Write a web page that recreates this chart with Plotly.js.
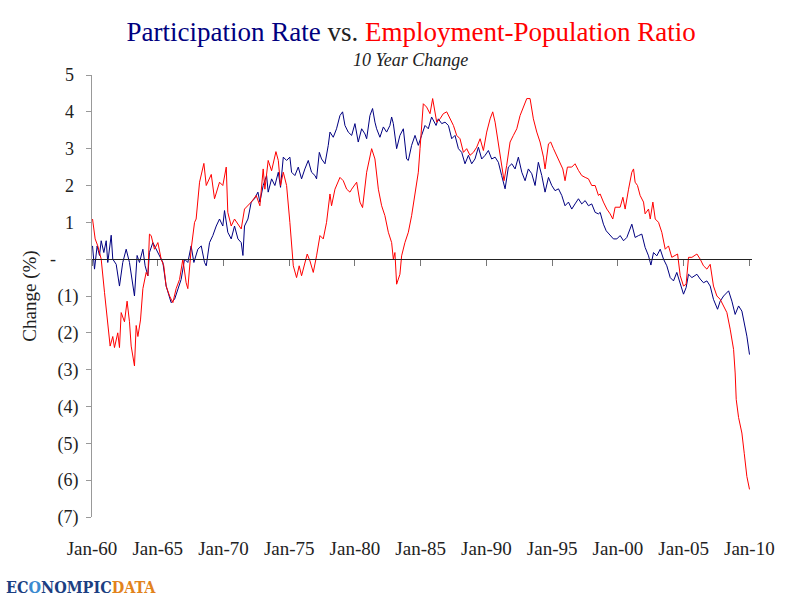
<!DOCTYPE html>
<html>
<head>
<meta charset="utf-8">
<script src="https://cdn.plot.ly/plotly-3.0.1.min.js"></script>
<style>
  html, body { margin: 0; padding: 0; background: #fff; }
  #chart { width: 800px; height: 600px; }
</style>
</head>
<body>
<div id="chart"></div>
<script>
// 10년 변화(%p): 경제활동참가율(파랑) vs 고용률(빨강). 그림에서 읽은 값.
const partYears = [
  1960.04, 1960.19, 1960.39, 1960.57, 1960.70, 1960.90, 1961.08, 1961.20, 1961.46, 1961.58,
  1961.84, 1962.09, 1962.34, 1962.60, 1962.85, 1963.11, 1963.23, 1963.43, 1963.61, 1963.87,
  1964.04, 1964.25, 1964.37, 1964.63, 1964.88, 1965.13, 1965.39, 1965.64, 1966.02, 1966.28,
  1966.53, 1966.78, 1967.04, 1967.29, 1967.54, 1967.75, 1968.05, 1968.31, 1968.56, 1968.69,
  1968.94, 1969.19, 1969.45, 1969.70, 1969.95, 1970.08, 1970.33, 1970.59, 1970.84, 1971.10,
  1971.35, 1971.48, 1971.60, 1971.86, 1972.11, 1972.36, 1972.62, 1972.77, 1973.02, 1973.28,
  1973.40, 1973.66, 1973.91, 1974.17, 1974.34, 1974.55, 1974.80, 1975.05, 1975.18, 1975.43,
  1975.69, 1975.94, 1976.19, 1976.45, 1976.70, 1976.96, 1977.08, 1977.29, 1977.46, 1977.72,
  1977.97, 1978.10, 1978.35, 1978.60, 1978.86, 1979.06, 1979.24, 1979.49, 1979.75, 1980.00,
  1980.25, 1980.51, 1980.76, 1980.89, 1981.14, 1981.34, 1981.52, 1981.65, 1981.90, 1982.16,
  1982.41, 1982.66, 1982.79, 1982.92, 1983.17, 1983.42, 1983.68, 1983.93, 1984.06, 1984.31,
  1984.57, 1984.82, 1985.07, 1985.33, 1985.58, 1985.83, 1986.17, 1986.34, 1986.60, 1986.85,
  1987.11, 1987.36, 1987.61, 1987.87, 1988.12, 1988.37, 1988.63, 1988.88, 1989.13, 1989.39,
  1989.64, 1989.90, 1990.15, 1990.40, 1990.66, 1990.91, 1991.16, 1991.42, 1991.67, 1991.93,
  1992.18, 1992.43, 1992.69, 1992.94, 1993.19, 1993.45, 1993.70, 1993.95, 1994.21, 1994.46,
  1994.72, 1994.97, 1995.22, 1995.48, 1995.73, 1995.98, 1996.24, 1996.49, 1996.74, 1997.00,
  1997.25, 1997.51, 1997.76, 1998.01, 1998.27, 1998.52, 1998.65, 1998.90, 1999.11, 1999.41,
  1999.66, 1999.92, 2000.17, 2000.43, 2000.68, 2001.06, 2001.31, 2001.57, 2001.82, 2002.07,
  2002.33, 2002.51, 2002.71, 2002.96, 2003.22, 2003.47, 2003.72, 2003.98, 2004.23, 2004.48,
  2004.74, 2004.99, 2005.19, 2005.37, 2005.63, 2006.01, 2006.26, 2006.51, 2006.77, 2007.02,
  2007.27, 2007.58, 2007.78, 2008.04, 2008.42, 2008.67, 2008.92, 2009.18, 2009.43, 2009.61,
  2009.81, 2010.01,
];
const partValues = [
  0.36, -0.27, 0.36, 0.10, 0.50, 0.18, 0.50, -0.09, 0.65, 0.00,
  -0.14, -0.73, -0.09, 0.27, -0.09, -0.82, -1.00, 0.10, -0.09, 0.27,
  -0.18, -0.45, 0.18, 0.45, 0.27, 0.09, -0.09, -0.73, -1.18, -1.09,
  -0.82, -0.55, 0.00, -0.09, 0.36, -0.09, 0.27, 0.36, -0.09, -0.18,
  0.45, 0.64, 0.90, 1.09, 0.90, 1.32, 0.73, 0.55, 0.90, 0.55,
  0.45, 0.10, 0.90, 1.09, 1.55, 1.64, 1.82, 1.55, 2.00, 2.27,
  1.82, 2.18, 2.00, 2.36, 1.95, 2.77, 2.68, 2.77, 2.36, 2.27,
  2.50, 2.18, 2.45, 2.68, 2.36, 2.27, 2.18, 2.90, 2.72, 2.59,
  3.09, 3.45, 3.31, 3.54, 3.90, 4.00, 3.63, 3.45, 3.36, 3.68,
  3.18, 3.54, 3.40, 3.27, 3.90, 4.09, 3.72, 3.54, 3.31, 3.59,
  3.45, 3.63, 3.86, 3.68, 3.00, 3.36, 3.54, 2.72, 2.68, 3.09,
  3.36, 3.09, 3.36, 3.63, 3.54, 3.86, 3.63, 3.81, 3.68, 3.72,
  3.63, 3.27, 3.36, 3.00, 2.90, 2.59, 2.82, 2.59, 2.72, 3.04,
  2.72, 2.82, 2.95, 2.72, 2.77, 2.63, 2.27, 1.91, 2.50, 2.59,
  2.45, 2.77, 2.36, 2.13, 2.45, 2.32, 2.00, 2.63, 2.27, 1.82,
  2.22, 2.00, 1.86, 1.91, 1.73, 1.45, 1.55, 1.36, 1.50, 1.64,
  1.50, 1.59, 1.45, 1.50, 1.27, 1.23, 1.27, 0.95, 0.77, 0.64,
  0.55, 0.55, 0.64, 0.50, 0.59, 0.95, 0.59, 0.64, 0.68, 0.32,
  0.09, -0.16, 0.18, 0.09, 0.27, 0.00, -0.18, -0.50, -0.59, -0.36,
  -0.68, -0.95, -0.77, -0.41, -0.50, -0.41, -0.54, -0.64, -0.59, -0.73,
  -1.09, -1.36, -1.14, -1.00, -0.86, -1.14, -1.50, -1.27, -1.41, -1.73,
  -2.09, -2.59,
];

const empYears = [
  1960.04, 1960.24, 1960.44, 1960.70, 1960.95, 1961.20, 1961.38, 1961.58, 1961.71, 1961.96,
  1962.09, 1962.22, 1962.47, 1962.67, 1962.85, 1962.98, 1963.23, 1963.36, 1963.49, 1963.69,
  1963.87, 1964.12, 1964.25, 1964.37, 1964.50, 1964.75, 1965.01, 1965.26, 1965.46, 1965.64,
  1965.90, 1966.15, 1966.40, 1966.66, 1966.91, 1967.16, 1967.29, 1967.54, 1967.80, 1967.92,
  1968.18, 1968.51, 1968.69, 1969.07, 1969.32, 1969.70, 1969.95, 1970.21, 1970.33, 1970.59,
  1970.84, 1971.35, 1971.60, 1972.11, 1972.49, 1972.77, 1973.02, 1973.15, 1973.40, 1973.66,
  1973.99, 1974.17, 1974.34, 1974.55, 1974.80, 1975.05, 1975.18, 1975.31, 1975.56, 1975.76,
  1975.94, 1976.19, 1976.37, 1976.58, 1976.83, 1977.08, 1977.34, 1977.59, 1977.84, 1978.10,
  1978.22, 1978.48, 1978.86, 1979.11, 1979.37, 1979.62, 1979.75, 1980.13, 1980.38, 1980.58,
  1980.89, 1981.27, 1981.52, 1981.78, 1982.03, 1982.28, 1982.54, 1982.79, 1982.92, 1983.04,
  1983.17, 1983.42, 1983.55, 1983.80, 1984.06, 1984.31, 1984.57, 1984.82, 1984.95, 1985.07,
  1985.20, 1985.45, 1985.71, 1985.91, 1986.22, 1986.47, 1986.72, 1986.98, 1987.23, 1987.49,
  1987.74, 1987.99, 1988.25, 1988.50, 1988.75, 1989.01, 1989.26, 1989.52, 1989.77, 1990.02,
  1990.28, 1990.48, 1990.66, 1990.91, 1991.16, 1991.34, 1991.54, 1991.80, 1992.05, 1992.31,
  1992.56, 1992.81, 1993.07, 1993.32, 1993.57, 1993.83, 1994.08, 1994.34, 1994.46, 1994.72,
  1994.89, 1995.10, 1995.35, 1995.60, 1995.81, 1995.98, 1996.16, 1996.49, 1996.74, 1997.00,
  1997.25, 1997.51, 1997.76, 1998.01, 1998.27, 1998.52, 1998.65, 1998.90, 1999.16, 1999.41,
  1999.61, 1999.79, 2000.17, 2000.38, 2000.55, 2000.81, 2001.06, 2001.19, 2001.31, 2001.49,
  2001.69, 2001.95, 2002.07, 2002.33, 2002.46, 2002.66, 2002.84, 2003.09, 2003.34, 2003.60,
  2003.85, 2004.10, 2004.36, 2004.54, 2004.74, 2004.99, 2005.19, 2005.37, 2005.63, 2006.01,
  2006.26, 2006.51, 2006.77, 2007.02, 2007.27, 2007.53, 2007.78, 2008.04, 2008.29, 2008.54,
  2008.80, 2008.92, 2009.00, 2009.18, 2009.43, 2009.61, 2009.81, 2010.01,
];
const empValues = [
  1.09, 0.55, 0.36, 0.00, -0.90, -1.70, -2.36, -2.10, -2.40, -2.00,
  -2.40, -1.45, -1.70, -1.14, -1.70, -2.36, -2.90, -1.80, -2.10, -1.65,
  -0.80, -0.36, -0.45, 0.68, 0.64, 0.27, 0.45, 0.00, -0.18, -0.73,
  -1.00, -1.18, -0.80, -0.55, 0.00, -0.64, -0.80, 0.27, 1.00, 1.09,
  2.09, 2.60, 2.00, 2.30, 1.64, 2.09, 2.00, 2.50, 1.27, 0.90,
  1.09, 0.82, 1.36, 1.55, 1.73, 1.45, 2.45, 1.90, 2.68, 2.40,
  2.92, 2.68, 2.00, 2.36, 2.00, 1.00, 0.36, -0.18, -0.50, -0.18,
  -0.45, -0.09, 0.14, -0.05, -0.36, 0.09, 0.64, 0.55, 1.00, 1.77,
  1.45, 1.90, 2.22, 2.13, 1.90, 1.82, 1.90, 2.09, 1.55, 1.40,
  2.36, 3.00, 2.72, 1.90, 1.45, 1.18, 0.73, 0.45, 0.00, 0.18,
  -0.68, -0.41, 0.09, 0.45, 0.73, 1.18, 1.82, 2.36, 3.00, 3.63,
  4.22, 4.13, 3.95, 4.36, 3.72, 3.81, 3.95, 4.00, 3.81, 3.63,
  3.36, 3.27, 2.90, 3.00, 2.82, 2.90, 3.04, 3.27, 2.95, 3.45,
  3.81, 4.00, 3.72, 3.18, 2.54, 2.13, 2.54, 3.18, 3.36, 3.54,
  3.90, 4.13, 4.36, 4.36, 3.81, 3.45, 3.18, 2.77, 2.45, 3.13,
  3.18, 3.00, 2.82, 2.63, 2.45, 2.13, 2.50, 2.50, 2.59, 2.41,
  2.27, 2.22, 2.18, 2.00, 2.00, 1.73, 1.77, 1.55, 1.36, 1.23,
  1.09, 1.41, 1.41, 1.68, 1.36, 1.90, 2.36, 2.45, 2.09, 2.00,
  1.73, 1.55, 1.23, 1.36, 1.09, 1.55, 1.09, 1.00, 0.73, 0.27,
  0.36, 0.05, 0.09, 0.14, -0.45, -0.73, -0.68, 0.05, 0.05, 0.14,
  0.00, -0.18, -0.27, -0.14, -0.73, -1.00, -1.09, -1.27, -1.45, -1.90,
  -2.45, -3.09, -3.81, -4.30, -4.72, -5.27, -5.90, -6.25,
];

// 축 눈금
const xTickVals = [1960, 1965, 1970, 1975, 1980, 1985, 1990, 1995, 2000, 2005, 2010];
const xTickText = ['Jan-60', 'Jan-65', 'Jan-70', 'Jan-75', 'Jan-80', 'Jan-85',
  'Jan-90', 'Jan-95', 'Jan-00', 'Jan-05', 'Jan-10'];
const yTickVals = [-7, -6, -5, -4, -3, -2, -1, 0, 1, 2, 3, 4, 5];
const yTickText = ['(7)', '(6)', '(5)', '(4)', '(3)', '(2)', '(1)',
  '-\u2007\u2007\u00a0', '1\u00a0', '2\u00a0', '3\u00a0', '4\u00a0', '5\u00a0'];

const SERIF = '"Liberation Serif", "DejaVu Serif", serif';
const NAVY = '#000080', RED = '#ff0000';
const X_RANGE = [1960, 2010.2], Y_RANGE = [-7, 5];

const traces = [
  { x: partYears, y: partValues, name: 'Participation Rate', mode: 'lines',
    line: { color: NAVY, width: 1 }, hoverinfo: 'skip' },
  { x: empYears, y: empValues, name: 'Employment-Population Ratio', mode: 'lines',
    xaxis: 'x2', line: { color: RED, width: 1 }, hoverinfo: 'skip' },
];

const layout = {
  width: 800, height: 600,
  paper_bgcolor: '#fff', plot_bgcolor: '#fff',
  font: { family: SERIF, color: '#222', size: 17 },
  margin: { l: 92, r: 48, t: 75, b: 83 },
  showlegend: false,
  title: {
    text: `<span style="color:${NAVY}">Participation Rate</span> vs. <span style="color:${RED}">Employment-Population Ratio</span>`,
    font: { family: SERIF, size: 27, color: '#222' },
    x: 0.514, xanchor: 'center', y: 0.947, yanchor: 'middle',
  },
  // 아래쪽 라벨용 축(선·눈금 없음)
  xaxis: {
    range: X_RANGE, tickvals: xTickVals, ticktext: xTickText,
    showline: false, showgrid: false, zeroline: false, ticks: '',
    ticklabelstandoff: 18, tickfont: { size: 19 },
  },
  // 0 에 걸친 가로축(선 + 아래로 짧은 눈금)
  xaxis2: {
    matches: 'x', overlaying: 'x', anchor: 'free',
    position: (0 - Y_RANGE[0]) / (Y_RANGE[1] - Y_RANGE[0]),
    tickvals: xTickVals, showticklabels: false,
    showline: true, linecolor: '#222', linewidth: 1,
    ticks: 'outside', ticklen: 6, tickcolor: '#777', tickwidth: 1,
    showgrid: false, zeroline: false,
  },
  yaxis: {
    range: Y_RANGE, tickvals: yTickVals, ticktext: yTickText,
    showline: true, linecolor: '#999', linewidth: 1,
    ticks: 'outside', ticklen: 5, tickcolor: '#999',
    showgrid: false, zeroline: false, tickfont: { size: 18 }, ticklabelstandoff: 4,
    title: { text: 'Change (%)', font: { size: 19 }, standoff: 8 },
  },
  annotations: [
    { text: '<i>10 Year Change</i>', xref: 'paper', yref: 'paper', x: (410 - 92) / 660, y: 1.035,
      xanchor: 'center', yanchor: 'middle', showarrow: false, font: { family: SERIF, size: 18, color: '#222' } },
    { text: '<b><span style="color:#1c3f82">EC</span><span style="color:#3b8ad0">O</span><span style="color:#1c3f82">NOMPIC</span><span style="color:#e2831c">DATA</span></b>',
      xref: 'paper', yref: 'paper', x: -88 / 660, y: -0.16, xanchor: 'left', yanchor: 'middle', showarrow: false,
      font: { family: '"DejaVu Serif Condensed", "DejaVu Serif", serif', size: 16 } },
  ],
};

Plotly.newPlot('chart', traces, layout, { displayModeBar: false, staticPlot: true });
</script>
</body>
</html>
